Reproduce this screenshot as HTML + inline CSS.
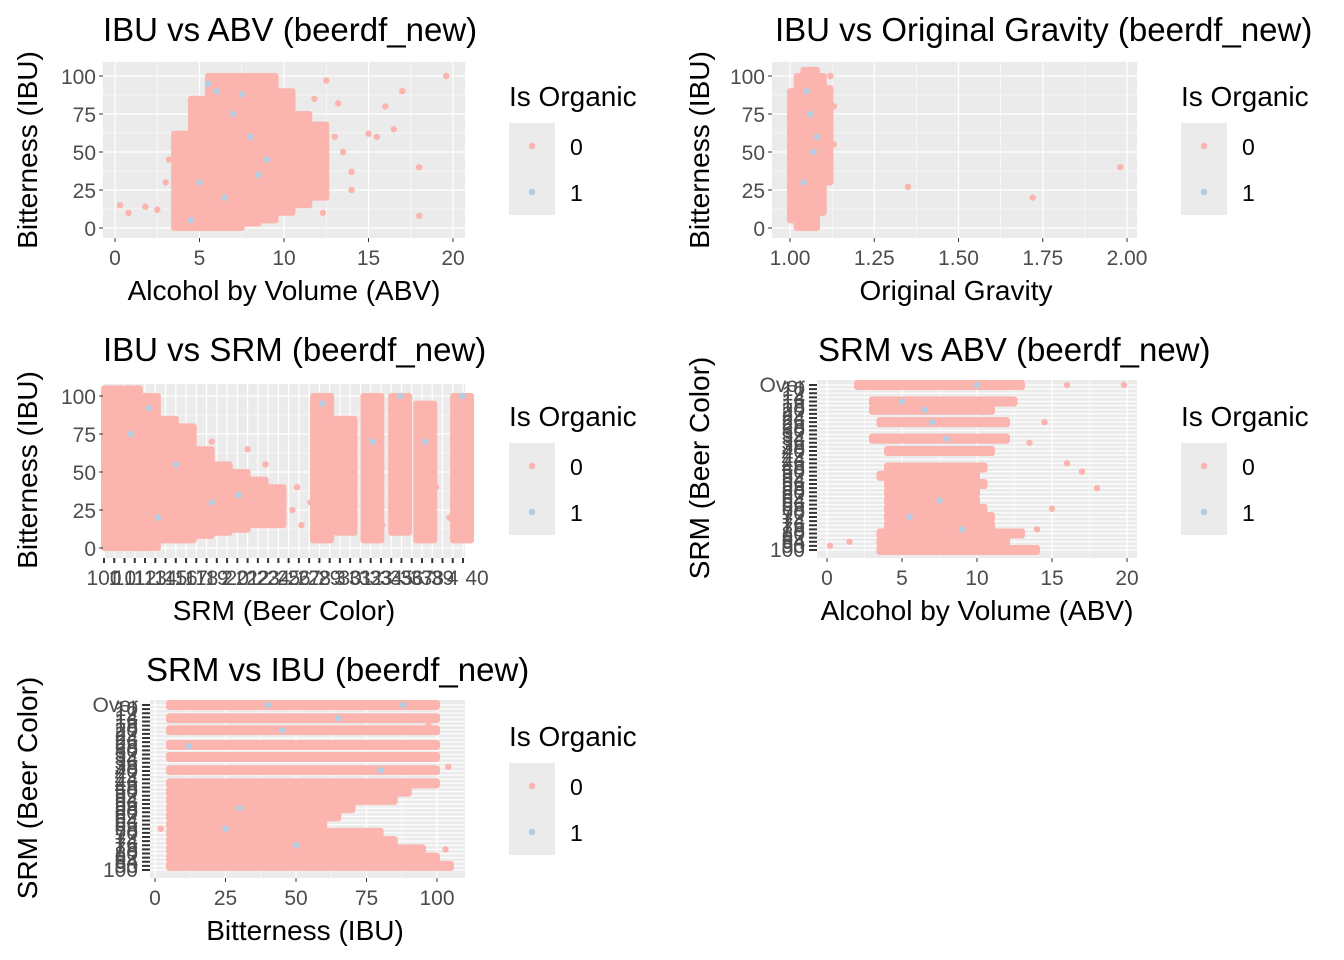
<!DOCTYPE html>
<html><head><meta charset="utf-8">
<style>
html,body{margin:0;padding:0;background:#fff;}
svg{display:block;font-family:"Liberation Sans",Arial,sans-serif;}
</style></head>
<body>
<svg id="chart" width="1344" height="960" viewBox="0 0 1344 960" xmlns="http://www.w3.org/2000/svg"></svg>
<script>
// ---------- Panel 1: IBU vs ABV ----------
const p1BandX=[4,5,6,7,8,9,10,11,12];
const p1BandLow=[0,0,0,0,3,5,10,15,20];
const p1BandHigh=[62,85,100,100,100,100,90,75,68];
const p1PtX=[0.3,0.8,1.8,2.5,3.2,3.0,13,13.5,14,15,16,16.5,17,18,18,19.6,14,12.5,15.5,13.2,11.8,12.3];
const p1PtY=[15,10,14,12,45,30,60,50,25,62,80,65,90,40,8,100,37,97,60,82,85,10];
const p1BlueX=[5.5,6,7,8,5,6.5,9,4.5,7.5,8.5];
const p1BlueY=[95,90,75,60,30,20,45,5,88,35];
// ---------- Panel 2: IBU vs OG ----------
const p2BandX=[1.01,1.03,1.05,1.07,1.09,1.11];
const p2BandLow=[5,0,0,0,10,30];
const p2BandHigh=[90,100,104,104,100,92];
const p2PtX=[1.35,1.72,1.98,1.13,1.13,1.0,1.12];
const p2PtY=[27,20,40,80,55,35,100];
const p2BlueX=[1.05,1.06,1.07,1.04,1.08];
const p2BlueY=[90,75,50,30,60];
// ---------- Panel 3: IBU vs SRM ----------
const p3BandX=[1,3,5,7,9,11,13,15,17,19,24.3,26.9,29.9,33,35.8,39.9];
const p3BandLow=[0,0,0,5,5,8,10,12,15,15,5,10,5,10,5,5];
const p3BandHigh=[105,105,100,85,80,65,55,50,45,40,100,85,100,100,95,100];
const p3PtX=[21,22,23,20,21.5,23.5,18,16,12,10,27.5,31,37,38.5];
const p3PtY=[25,15,30,20,40,10,55,65,70,78,30,15,40,20];
const p3BlueX=[3,5,8,12,15,24.3,29.9,33,35.8,39.9,6];
const p3BlueY=[75,92,55,30,35,95,70,100,70,100,20];
const p3TickLabels=["100","1","10","11","12","13","14","15","16","17","18","19","2","20","21","22","23","24","25","26","27","28","29","3","30","31","32","33","34","35","36","37","38","39","4","40"];
// ---------- Panel 4: SRM vs ABV (y = SRM level index 0 bottom .. 40 top) ----------
const p4RowY=[40,36,34,31,27,24,20,18,16,14,12,10,8,6,4,2,0];
const p4RowLow=[2,3,3,3.5,3,4,4,3.5,4,4,4,4,4,4,3.5,3.5,3.5];
const p4RowHigh=[13,12.5,11,12,12,11,10.5,10,10.5,10,10,10.5,11,11,13,12,14];
const p4PtX=[0.2,19.8,18,17,16,15,14,16,12.5,1.5,13.5,14.5];
const p4PtY=[1,40,15,19,21,10,5,40,40,2,26,31];
const p4BlueX=[5,6.5,7,8,9,5.5,10,7.5];
const p4BlueY=[36,34,31,27,5,8,40,12];
// ---------- Panel 5: SRM vs IBU ----------
const p5RowY=[40,36.8,33.9,30.3,27.4,24.2,21,19,17,15,13,11,9,7,5,3,1];
const p5RowLow=[5,5,5,5,5,5,5,5,5,5,5,5,5,5,5,5,5];
const p5RowHigh=[100,100,100,100,100,100,100,90,85,70,65,60,80,85,95,100,105];
const p5PtX=[2,103,104,98,97];
const p5PtY=[10,5,25,30,35];
const p5BlueX=[12,25,40,65,80,88,30,50,45];
const p5BlueY=[30,10,40,36.8,24.2,40,15,6,33.9];
const srmLevels=["Over","10","12","14","16","18","20","22","24","26","28","30","32","34","36","38","40","42","44","46","48","50","52","54","56","58","60","62","64","66","68","70","72","74","76","78","80","82","84","90","100"];

const NS="http://www.w3.org/2000/svg";
const svg=document.getElementById('chart');
const PINK="#FBB4AE", BLUE="#B3CDE3", BG="#EBEBEB", TXT="#4D4D4D";
function mk(tag,attrs,parent){const e=document.createElementNS(NS,tag);for(const k in attrs)e.setAttribute(k,attrs[k]);(parent||svg).appendChild(e);return e;}
function txt(x,y,s,size,fill,anchor,parent){const t=mk('text',{x:x,y:y,'font-size':size,fill:fill,'text-anchor':anchor||'start'},parent);t.textContent=s;return t;}
function lin(d0,d1,p0,p1){return v=>p0+(v-d0)/(d1-d0)*(p1-p0);}

function panel(c){
  const g=mk('g',{});
  
  
  const bg=mk('rect',{x:c.L,y:c.T,width:c.R-c.L,height:c.B-c.T,fill:BG},g);
  
  
  const X=lin(c.dx[0],c.dx[1],c.px[0],c.px[1]);
  const Y=lin(c.dy[0],c.dy[1],c.py[0],c.py[1]);
  (c.xMinor||[]).forEach(v=>mk('line',{x1:X(v),x2:X(v),y1:c.T,y2:c.B,stroke:'#fff','stroke-width':0.6},g));
  (c.yMinor||[]).forEach(v=>mk('line',{x1:c.L,x2:c.R,y1:Y(v),y2:Y(v),stroke:'#fff','stroke-width':0.6},g));
  (c.xMajor||[]).forEach(v=>mk('line',{x1:X(v),x2:X(v),y1:c.T,y2:c.B,stroke:'#fff','stroke-width':1.2},g));
  (c.yMajor||[]).forEach(v=>mk('line',{x1:c.L,x2:c.R,y1:Y(v),y2:Y(v),stroke:'#fff','stroke-width':1.2},g));
  const clip=mk('g',{},g);
  if(c.bx){c.bx.forEach((v,i)=>{
    const x0=X(v-c.bw/2)-3,x1=X(v+c.bw/2)+3,y0=Y(c.bh[i])-3,y1=Y(c.bl[i])+3;
    const r=mk('rect',{x:x0,y:y0,width:x1-x0,height:y1-y0,fill:PINK,rx:3},clip);
    
    
  });}
  if(c.ry){c.ry.forEach((v,i)=>{
    const x0=X(c.rl[i])-3,x1=X(c.rh[i])+3,y0=Y(v+c.rt)-2.5,y1=Y(v-c.rt)+2.5;
    const r=mk('rect',{x:x0,y:Math.min(y0,y1),width:x1-x0,height:Math.abs(y1-y0),fill:PINK,rx:3},clip);
    
    
  });}
  c.ptx.forEach((v,i)=>{
    const p=mk('circle',{cx:X(v),cy:Y(c.pty[i]),r:3.2,fill:PINK},clip);
    
    
  });
  c.bxp.forEach((v,i)=>{
    const p=mk('circle',{cx:X(v),cy:Y(c.byp[i]),r:3.2,fill:BLUE},clip);
    
    
  });
  (c.xTicks||[]).forEach((v,i)=>{
    mk('line',{x1:X(v),x2:X(v),y1:c.B,y2:c.B+4,stroke:'#333','stroke-width':1},g);
    const t=txt(X(v),c.B+27,c.xLab[i],21,TXT,'middle',g);
    
    
  });
  (c.yTicks||[]).forEach((v,i)=>{
    mk('line',{x1:c.L-4,x2:c.L,y1:Y(v),y2:Y(v),stroke:'#333','stroke-width':1},g);
    const t=txt(c.L-7,Y(v)+8,c.yLab[i],21,TXT,'end',g);
    
    
  });
  const ti=txt(c.titleX,c.titleY,c.title,33,'#000','start',g);
  
  
  const xt=txt(c.xtX,c.xtY,c.xTitle,28,'#000','middle',g);
  
  
  const yt=txt(0,0,c.yTitle,28,'#000','middle',g);
  yt.setAttribute('transform','translate('+c.ytX+','+c.ytY+') rotate(-90)');
  
  
  return {X,Y,g};
}
function legend(x,y){
  const g=mk('g',{});
  
  
  const t=txt(x,y+10,'Is Organic',28,'#000','start',g);
  
  
  mk('rect',{x:x,y:y+27,width:46,height:92,fill:BG},g);
  [[PINK,'0'],[BLUE,'1']].forEach((d,i)=>{
    const c=mk('circle',{cx:x+23,cy:y+50+i*46,r:3.2,fill:d[0]},g);
    
    
    const l=txt(x+61,y+59+i*46,d[1],23,'#000','start',g);
    
    
  });
}
const yMaj=[0,25,50,75,100], yLab=["0","25","50","75","100"], yMin=[12.5,37.5,62.5,87.5];

panel({name:'panel-ibu-vs-abv',L:103,R:465,T:62,B:238,dx:[0,20],px:[115,453],dy:[0,100],py:[228,76],
 xMajor:[0,5,10,15,20],xMinor:[2.5,7.5,12.5,17.5],yMajor:yMaj,yMinor:yMin,
 bx:p1BandX,bw:1,bl:p1BandLow,bh:p1BandHigh,ptx:p1PtX,pty:p1PtY,bxp:p1BlueX,byp:p1BlueY,
 xTicks:[0,5,10,15,20],xLab:["0","5","10","15","20"],yTicks:yMaj,yLab:yLab,
 title:'IBU vs ABV (beerdf_new)',titleX:103,titleY:41,xTitle:'Alcohol by Volume (ABV)',xtX:284,xtY:300,yTitle:'Bitterness (IBU)',ytX:37,ytY:150});
legend(509,96);

panel({name:'panel-ibu-vs-og',L:772,R:1137,T:62,B:238,dx:[1,2],px:[790,1127],dy:[0,100],py:[228,76],
 xMajor:[1,1.25,1.5,1.75,2],xMinor:[1.125,1.375,1.625,1.875],yMajor:yMaj,yMinor:yMin,
 bx:p2BandX,bw:0.02,bl:p2BandLow,bh:p2BandHigh,ptx:p2PtX,pty:p2PtY,bxp:p2BlueX,byp:p2BlueY,
 xTicks:[1,1.25,1.5,1.75,2],xLab:["1.00","1.25","1.50","1.75","2.00"],yTicks:yMaj,yLab:yLab,
 title:'IBU vs Original Gravity (beerdf_new)',titleX:775,titleY:41,xTitle:'Original Gravity',xtX:956,xtY:300,yTitle:'Bitterness (IBU)',ytX:709,ytY:150});
legend(1181,96);

const p3=panel({name:'panel-ibu-vs-srm',L:103,R:465,T:384,B:558,dx:[0,40],px:[104,463],dy:[0,100],py:[548,396],
 xMajor:p3TickLabels.map((s,i)=>i*40/(p3TickLabels.length-1)),yMajor:yMaj,yMinor:yMin,
 bx:p3BandX,bw:2,bl:p3BandLow,bh:p3BandHigh,ptx:p3PtX,pty:p3PtY,bxp:p3BlueX,byp:p3BlueY,
 yTicks:yMaj,yLab:yLab,
 title:'IBU vs SRM (beerdf_new)',titleX:103,titleY:361,xTitle:'SRM (Beer Color)',xtX:284,xtY:620,yTitle:'Bitterness (IBU)',ytX:37,ytY:470});
p3TickLabels.forEach((s,i)=>{
  const v=i*40/(p3TickLabels.length-1);
  mk('line',{x1:p3.X(v),x2:p3.X(v),y1:558,y2:563,stroke:'#333','stroke-width':2},p3.g);
  const t=txt(p3.X(v)+(i==p3TickLabels.length-1?14:0),585,s,21,TXT,'middle',p3.g);
  
  
});
legend(509,416);

const srmIdx=srmLevels.map((s,i)=>40-i);
const p4=panel({name:'panel-srm-vs-abv',L:817,R:1137,T:380,B:558,dx:[0,20],px:[827,1127],dy:[0,40],py:[550,385],
 xMajor:[0,5,10,15,20],xMinor:[2.5,7.5,12.5,17.5],yMajor:srmIdx,
 ry:p4RowY,rl:p4RowLow,rh:p4RowHigh,rt:0.6,ptx:p4PtX,pty:p4PtY,bxp:p4BlueX,byp:p4BlueY,
 xTicks:[0,5,10,15,20],xLab:["0","5","10","15","20"],
 title:'SRM vs ABV (beerdf_new)',titleX:818,titleY:361,xTitle:'Alcohol by Volume (ABV)',xtX:977,xtY:620,yTitle:'SRM (Beer Color)',ytX:709,ytY:468});
legend(1181,416);

const p5=panel({name:'panel-srm-vs-ibu',L:150,R:465,T:700,B:878,dx:[0,100],px:[155,437],dy:[0,40],py:[870,705],
 xMajor:[0,25,50,75,100],xMinor:[12.5,37.5,62.5,87.5],yMajor:srmIdx,
 ry:p5RowY,rl:p5RowLow,rh:p5RowHigh,rt:0.6,ptx:p5PtX,pty:p5PtY,bxp:p5BlueX,byp:p5BlueY,
 xTicks:[0,25,50,75,100],xLab:["0","25","50","75","100"],
 title:'SRM vs IBU (beerdf_new)',titleX:146,titleY:681,xTitle:'Bitterness (IBU)',xtX:305,xtY:940,yTitle:'SRM (Beer Color)',ytX:37,ytY:788});
legend(509,736);

[[p4,817],[p5,150]].forEach(([p,L])=>{
  srmLevels.forEach((s,i)=>{
    const v=srmIdx[i];
    mk('line',{x1:L-8,x2:L,y1:p.Y(v),y2:p.Y(v),stroke:'#333','stroke-width':2},p.g);
    const t=txt(L-12,p.Y(v)+7,s,21,TXT,'end',p.g);
    
    
  });
});
</script>
</body></html>
